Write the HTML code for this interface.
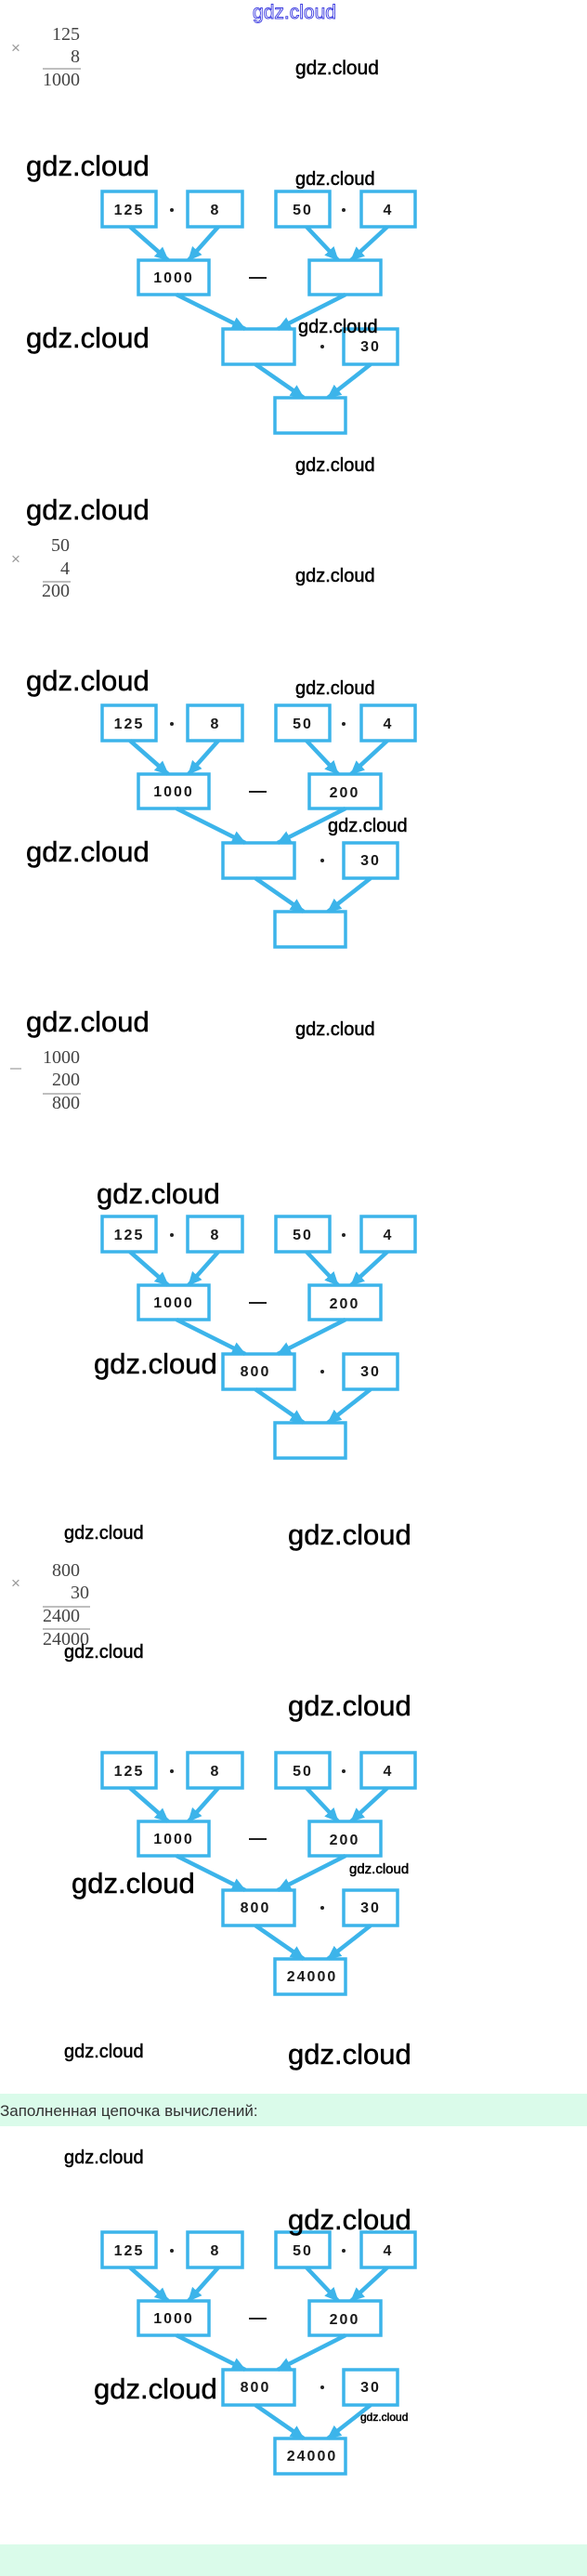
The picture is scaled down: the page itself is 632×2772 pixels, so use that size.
<!DOCTYPE html>
<html><head><meta charset="utf-8">
<style>
html,body{margin:0;padding:0;background:#fff;}
#p{position:relative;width:632px;height:2772px;overflow:hidden;}
.g{position:absolute;left:0;width:632px;background:#dafbea;}
svg{position:absolute;left:0;top:0;}
.w{font-family:"Liberation Sans",sans-serif;fill:#000;stroke:#000;stroke-width:0.5;}
.m{font-family:"Liberation Serif",serif;fill:#444;font-size:20px;}
.b{font-family:"Liberation Sans",sans-serif;font-size:16px;font-weight:bold;fill:#1a1a1a;letter-spacing:2px;text-anchor:middle;}
</style></head><body><div id="p">
<div class="g" style="top:2253px;height:35px;"></div>
<div class="g" style="top:2738px;height:34px;"></div>
<svg width="632" height="2772" viewBox="0 0 632 2772">
<defs>
<marker id="ah" markerUnits="userSpaceOnUse" markerWidth="16" markerHeight="16" refX="14" refY="8" orient="auto">
<path d="M0,1 L15,8 L0,15 Z" fill="#3cb4ea"/>
</marker>
<g id="sk" fill="none" stroke="#3cb4ea">
<g stroke-width="3.5">
<rect x="110" y="1" width="58" height="38"/>
<rect x="202" y="1" width="59" height="38"/>
<rect x="297" y="1" width="58" height="38"/>
<rect x="389" y="1" width="58" height="38"/>
<rect x="149" y="75" width="76" height="37"/>
<rect x="333" y="75" width="77" height="37"/>
<rect x="240" y="149" width="77" height="38"/>
<rect x="370" y="149" width="58" height="38"/>
<rect x="296" y="223" width="76" height="38"/>
</g>
<g stroke-width="4.5" marker-end="url(#ah)">
<line x1="140" y1="39" x2="181" y2="75"/>
<line x1="235" y1="39" x2="203" y2="75"/>
<line x1="330" y1="39" x2="364" y2="75"/>
<line x1="417" y1="39" x2="378" y2="75"/>
<line x1="190" y1="112" x2="264" y2="149"/>
<line x1="372" y1="112" x2="299" y2="149"/>
<line x1="275" y1="187" x2="327" y2="223"/>
<line x1="399" y1="187" x2="353" y2="223"/>
</g>
<g stroke="none" fill="#222">
<circle cx="185" cy="21" r="2"/><circle cx="370" cy="21" r="2"/><circle cx="347" cy="168" r="2"/>
<rect x="268" y="93" width="19" height="2"/>
</g>
</g>
</defs>

<text x="317" y="20" text-anchor="middle" font-family="Liberation Sans,sans-serif" font-size="21" fill="#fff" stroke="#3b3be0" stroke-width="0.9">gdz.cloud</text>

<!-- Section 1 -->
<g class="m" text-anchor="end">
<text x="86" y="43">125</text><text x="86" y="67">8</text><text x="86" y="92">1000</text>
</g>
<line x1="46" y1="74" x2="87" y2="74" stroke="#555" stroke-width="0.8"/>
<text x="12" y="57" font-family="Liberation Sans,sans-serif" font-size="17" fill="#999">×</text>
<text class="w" x="318" y="80" font-size="21">gdz.cloud</text>
<text class="w" x="28" y="189" font-size="31">gdz.cloud</text>
<text class="w" x="318" y="199" font-size="20">gdz.cloud</text>
<use href="#sk" x="0" y="205"/>
<g class="b"><text x="139" y="231">125</text><text x="232" y="231">8</text><text x="326" y="231">50</text><text x="418" y="231">4</text><text x="187" y="304">1000</text><text x="399" y="378">30</text></g>
<text class="w" x="28" y="374" font-size="31">gdz.cloud</text>
<text class="w" x="321" y="358" font-size="20">gdz.cloud</text>
<text class="w" x="318" y="507" font-size="20">gdz.cloud</text>

<!-- Section 2 -->
<text class="w" x="28" y="559" font-size="31">gdz.cloud</text>
<g class="m" text-anchor="end">
<text x="75" y="593">50</text><text x="75" y="618">4</text><text x="75" y="642">200</text>
</g>
<line x1="46" y1="626" x2="76" y2="626" stroke="#555" stroke-width="0.8"/>
<text x="12" y="607" font-family="Liberation Sans,sans-serif" font-size="17" fill="#999">×</text>
<text class="w" x="318" y="626" font-size="20">gdz.cloud</text>
<text class="w" x="28" y="743" font-size="31">gdz.cloud</text>
<text class="w" x="318" y="747" font-size="20">gdz.cloud</text>
<use href="#sk" x="0" y="758"/>
<g class="b"><text x="139" y="784">125</text><text x="232" y="784">8</text><text x="326" y="784">50</text><text x="418" y="784">4</text><text x="187" y="857">1000</text><text x="371" y="858">200</text><text x="399" y="931">30</text></g>
<text class="w" x="353" y="895" font-size="20">gdz.cloud</text>
<text class="w" x="28" y="927" font-size="31">gdz.cloud</text>

<!-- Section 3 -->
<text class="w" x="28" y="1110" font-size="31">gdz.cloud</text>
<text class="w" x="318" y="1114" font-size="20">gdz.cloud</text>
<g class="m" text-anchor="end">
<text x="86" y="1144">1000</text><text x="86" y="1168">200</text><text x="86" y="1193">800</text>
</g>
<line x1="46" y1="1177" x2="87" y2="1177" stroke="#555" stroke-width="0.8"/>
<line x1="11" y1="1150" x2="23" y2="1150" stroke="#888" stroke-width="1"/>
<text class="w" x="104" y="1295" font-size="31">gdz.cloud</text>
<use href="#sk" x="0" y="1308"/>
<g class="b"><text x="139" y="1334">125</text><text x="232" y="1334">8</text><text x="326" y="1334">50</text><text x="418" y="1334">4</text><text x="187" y="1407">1000</text><text x="371" y="1408">200</text><text x="275" y="1481">800</text><text x="399" y="1481">30</text></g>
<text class="w" x="101" y="1478" font-size="31">gdz.cloud</text>

<!-- Section 4 -->
<text class="w" x="69" y="1656" font-size="20">gdz.cloud</text>
<text class="w" x="310" y="1662" font-size="31">gdz.cloud</text>
<g class="m" text-anchor="end">
<text x="86" y="1696">800</text><text x="96" y="1720">30</text><text x="86" y="1745">2400</text><text x="96" y="1770">24000</text>
</g>
<line x1="46" y1="1729" x2="97" y2="1729" stroke="#555" stroke-width="0.8"/>
<line x1="46" y1="1753" x2="97" y2="1753" stroke="#555" stroke-width="0.8"/>
<text x="12" y="1709" font-family="Liberation Sans,sans-serif" font-size="17" fill="#999">×</text>
<text class="w" x="69" y="1784" font-size="20">gdz.cloud</text>
<text class="w" x="310" y="1846" font-size="31">gdz.cloud</text>
<use href="#sk" x="0" y="1885"/>
<g class="b"><text x="139" y="1911">125</text><text x="232" y="1911">8</text><text x="326" y="1911">50</text><text x="418" y="1911">4</text><text x="187" y="1984">1000</text><text x="371" y="1985">200</text><text x="275" y="2058">800</text><text x="399" y="2058">30</text><text x="336" y="2132">24000</text></g>
<text class="w" x="77" y="2037" font-size="31">gdz.cloud</text>
<text class="w" x="376" y="2016" font-size="15">gdz.cloud</text>
<text class="w" x="69" y="2214" font-size="20">gdz.cloud</text>
<text class="w" x="310" y="2221" font-size="31">gdz.cloud</text>

<text x="0" y="2277" font-family="Liberation Sans,sans-serif" font-size="17" fill="#333">Заполненная цепочка вычислений:</text>

<!-- Section 5 -->
<text class="w" x="69" y="2328" font-size="20">gdz.cloud</text>
<use href="#sk" x="0" y="2401"/>
<g class="b"><text x="139" y="2427">125</text><text x="232" y="2427">8</text><text x="326" y="2427">50</text><text x="418" y="2427">4</text><text x="187" y="2500">1000</text><text x="371" y="2501">200</text><text x="275" y="2574">800</text><text x="399" y="2574">30</text><text x="336" y="2648">24000</text></g>
<text class="w" x="310" y="2399" font-size="31">gdz.cloud</text>
<text class="w" x="101" y="2581" font-size="31">gdz.cloud</text>
<text class="w" x="388" y="2605" font-size="12">gdz.cloud</text>
</svg>
</div></body></html>
